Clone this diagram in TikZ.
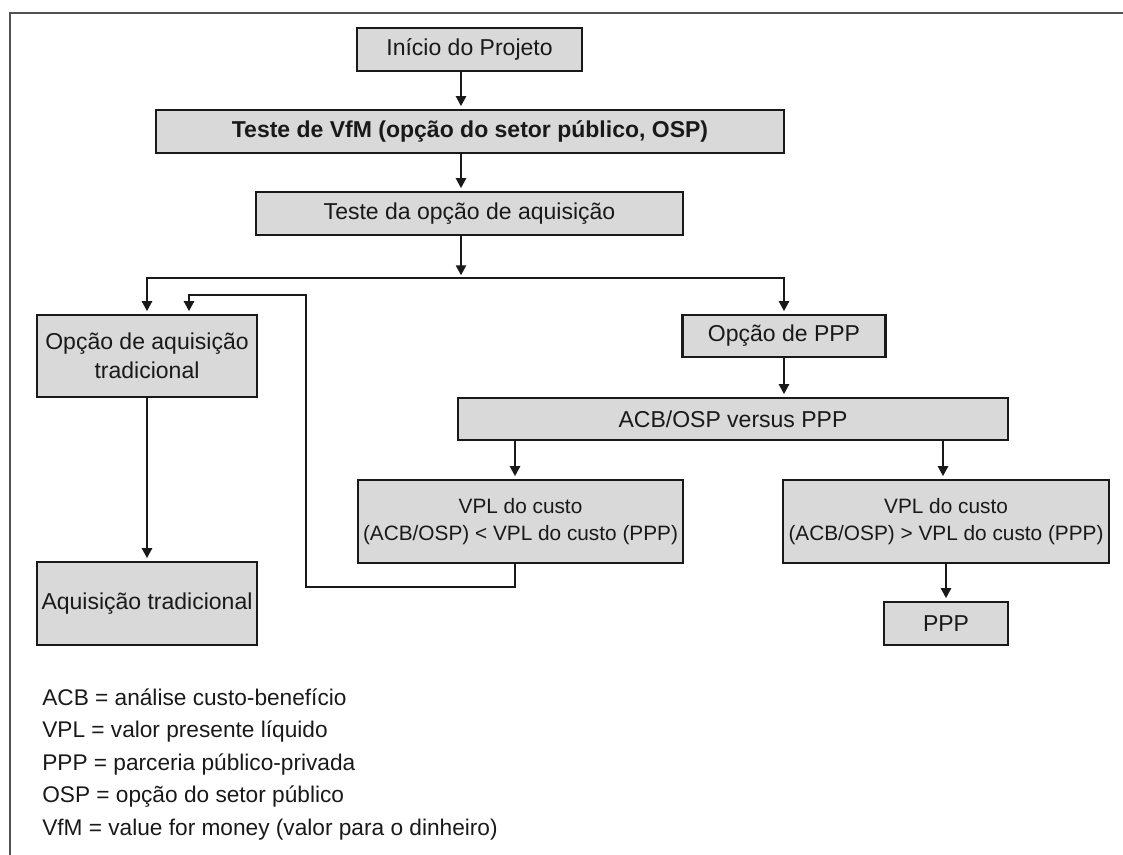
\documentclass[tikz,border=0pt]{standalone}
\usepackage{fontspec}
\setmainfont{Liberation Sans}
\usetikzlibrary{arrows.meta}
\definecolor{boxfill}{RGB}{217,217,217}
\definecolor{ink}{RGB}{25,25,25}
\tikzset{
    box/.style={draw=ink, fill=boxfill, line width=1.7pt, inner sep=2pt,
                align=center, font=\fontsize{17.25}{21.5}\selectfont},
    small/.style={box, font=\fontsize{15.6}{20}\selectfont},
    flow/.style={-{Triangle[length=7.5pt,width=7.5pt]}, line width=1.7pt,
                 draw=ink, shorten >=2pt},
    legend/.style={anchor=base west, inner sep=0pt,
                   font=\fontsize{17}{20}\selectfont},
    frame/.style={line width=1.6pt, draw=ink!75},
}

\begin{document}
\begin{tikzpicture}[x=0.75pt, y=-0.75pt, text=ink]

    \useasboundingbox (0,0) rectangle (1123,855);
    \draw[frame] (10,855) -- (10,13) -- (1123,13);

    % main column
    \node[box, minimum width=168.75pt, minimum height=32.25pt] (inicio) at (469.5,49.5) {Início do Projeto};
    \node[box, minimum width=471pt, minimum height=32.25pt, font=\fontsize{17.25}{21.5}\selectfont\bfseries] (vfm) at (470,131.5) {Teste de VfM (opção do setor público, OSP)};
    \node[box, minimum width=320.25pt, minimum height=32.25pt] (teste) at (469.5,213.5) {Teste da opção de aquisição};

    % left branch
    \node[box, minimum width=165pt, minimum height=61.5pt] (opctrad) at (147,356) {Opção de aquisição\\tradicional};
    \node[box, minimum width=165pt, minimum height=62.25pt] (aqtrad) at (147,603.5) {Aquisição tradicional};

    % right branch
    \node[box, minimum width=152.25pt, minimum height=31.5pt] (opcppp) at (784,336) {Opção de PPP};
    \node[box, minimum width=412.5pt, minimum height=31.5pt] (versus) at (733,419) {ACB/OSP versus PPP};
    \node[small, minimum width=243.75pt, minimum height=62.25pt] (vplmenor) at (520.5,521.5) {VPL do custo\\(ACB/OSP) < VPL do custo (PPP)};
    \node[small, minimum width=244.5pt, minimum height=62.25pt] (vplmaior) at (946,521.5) {VPL do custo\\(ACB/OSP) > VPL do custo (PPP)};
    \node[box, minimum width=93pt, minimum height=32.25pt] (ppp) at (946,623.5) {PPP};

    % legend
    \node[legend] (defacb) at (42,705) {ACB = análise custo-benefício};
    \node[legend] (defvpl) at (42,737.5) {VPL = valor presente líquido};
    \node[legend] (defppp) at (42,770) {PPP = parceria público-privada};
    \node[legend] (defosp) at (42,802.5) {OSP = opção do setor público};
    \node[legend] (defvfm) at (42,835) {VfM = value for money (valor para o dinheiro)};

    \coordinate (spine) at (461,0);
    \coordinate (bus) at (461,278);
    \coordinate (lcol) at (515,0);
    \coordinate (rcol) at (943,0);
    \coordinate (back) at (306,587);
    \coordinate (backtop) at (306,295);
    \coordinate (entry) at (189,0);

    \draw[flow] (inicio.south -| spine) -- (vfm.north -| spine);
    \draw[flow] (vfm.south -| spine) -- (teste.north -| spine);
    \draw[flow] (teste.south -| spine) -- (bus);
    \draw[flow] (bus) -| (opctrad.north);
    \draw[flow] (bus) -| (opcppp.north);
    \draw[flow] (opctrad.south) -- (aqtrad.north);
    \draw[flow] (opcppp.south) -- (opcppp.south |- versus.north);
    \draw[flow] (versus.south -| lcol) -- (vplmenor.north -| lcol);
    \draw[flow] (versus.south -| rcol) -- (vplmaior.north -| rcol);
    \draw[flow] (vplmaior.south) -- (ppp.north);
    \draw[flow] (vplmenor.south -| lcol) |- (back) -- (backtop) -| (opctrad.north -| entry);

\end{tikzpicture}
\end{document}
